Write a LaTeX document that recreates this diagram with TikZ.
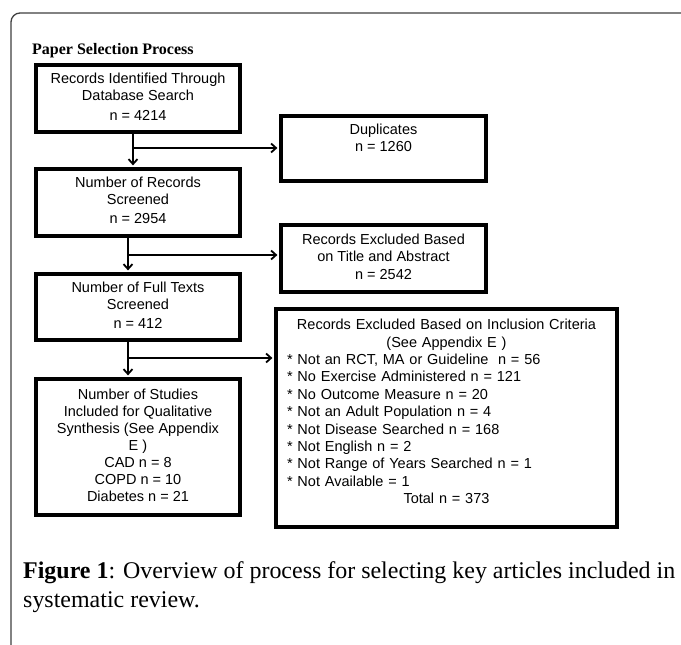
\documentclass[tikz,border=0pt]{standalone}
\usepackage{fontspec}
\setmainfont{Liberation Sans}
\newfontfamily\serifcap{Liberation Serif}
\usetikzlibrary{arrows.meta}
\newsavebox\capbox
\newlength\capwd
\begin{document}
\sbox\capbox{\serifcap\fontsize{10pt}{12pt}\selectfont\textbf{Figure 1}: Overview of process for selecting key articles included in}%
\setlength\capwd{\wd\capbox}%
\pgfmathsetmacro\capsize{6520/\capwd}%
\begin{tikzpicture}[x=1pt,y=-1pt,
  box/.style={draw=black, line width=4pt, inner sep=0pt, align=center,
    font=\fontsize{14.5pt}{17pt}\selectfont},
  conn/.style={line width=1.7pt, black},
  arr/.style={conn, shorten >=1.6pt, -{Straight Barb[length=5pt,width=9pt,line width=1.8pt]}},
  frame/.style={line width=1.3pt, black!75, rounded corners=9pt},
  capfont/.style={font=\serifcap\fontsize{\capsize pt}{29pt}\selectfont}
  ]
\useasboundingbox (0,0) rectangle (681,645);
\clip (0,0) rectangle (681,645);
\fill[white] (0,0) rectangle (681,645);
\draw[frame] (11,700) -- (11,13) -- (720,13);

\node[anchor=base west, inner sep=0pt, font=\serifcap\bfseries\fontsize{16pt}{18pt}\selectfont] (ttl) at (32,54) {Paper Selection Process};

\node[box, minimum width=204pt, minimum height=67pt] (b1) at (138,98.5)
  {\strut Records Identified Through\\Database Search\\[3pt]n = 4214\strut};
\node[box, minimum width=204pt, minimum height=67pt] (b2) at (138,202.5)
  {\strut Number of Records\\Screened\\[2pt]n = 2954\strut};
\node[box, minimum width=204pt, minimum height=66pt] (b3) at (138,307)
  {\strut Number of Full Texts\\Screened\\[2pt]n = 412\strut};
\node[box, minimum width=204pt, minimum height=136pt] (b4) at (138,447)
  {\strut Number of Studies\\Included for Qualitative\\Synthesis (See Appendix\\E )\\CAD n = 8\\COPD n = 10\\Diabetes n = 21\strut};

\node[box, minimum width=205pt, minimum height=65pt] (dup) at (383.5,148.5)
  {\strut Duplicates\\n = 1260\\\strut};
\node[box, minimum width=205pt, minimum height=67pt] (exta) at (383.5,258.5)
  {\strut Records Excluded Based\\on Title and Abstract\\[1pt]n = 2542\strut};
\node[box, minimum width=341pt, minimum height=218pt, text width=319pt, align=left,
  font=\fontsize{14.5pt}{17.4pt}\selectfont] (incl) at (446.5,418)
  {\setlength\parindent{0pt}\centering\strut Records Excluded Based on Inclusion Criteria\\(See Appendix E )\par
   \raggedright {*} Not an RCT, MA or Guideline~ n = 56\\
   {*} No Exercise Administered n = 121\\
   {*} No Outcome Measure n = 20\\
   {*} Not an Adult Population n = 4\\
   {*} Not Disease Searched n = 168\\
   {*} Not English n = 2\\
   {*} Not Range of Years Searched n = 1\\
   {*} Not Available = 1\par
   \centering Total n = 373\par\nointerlineskip\hbox{\vrule width 0pt height 14.5pt}};

\coordinate (j1) at (133,148);
\coordinate (j2) at (128,255);
\coordinate (j3) at (128,358);
\draw[conn] (b1.south -| j1) -- (j1);
\draw[arr] (j1) -- (b2.north -| j1);
\draw[arr] (j1) -- (dup.west |- j1);
\draw[conn] (b2.south -| j2) -- (j2);
\draw[arr] (j2) -- (b3.north -| j2);
\draw[arr] (j2) -- (exta.west |- j2);
\draw[conn] (b3.south -| j3) -- (j3);
\draw[arr] (j3) -- (b4.north -| j3);
\draw[arr] (j3) -- (incl.west |- j3);

\node[capfont, anchor=base west, inner sep=0pt] (cap1) at (23,578)
  {\textbf{Figure 1}: Overview of process for selecting key articles included in};
\node[capfont, anchor=base west, inner sep=0pt] (cap2) at (23,607)
  {systematic review.};
\end{tikzpicture}
\end{document}
